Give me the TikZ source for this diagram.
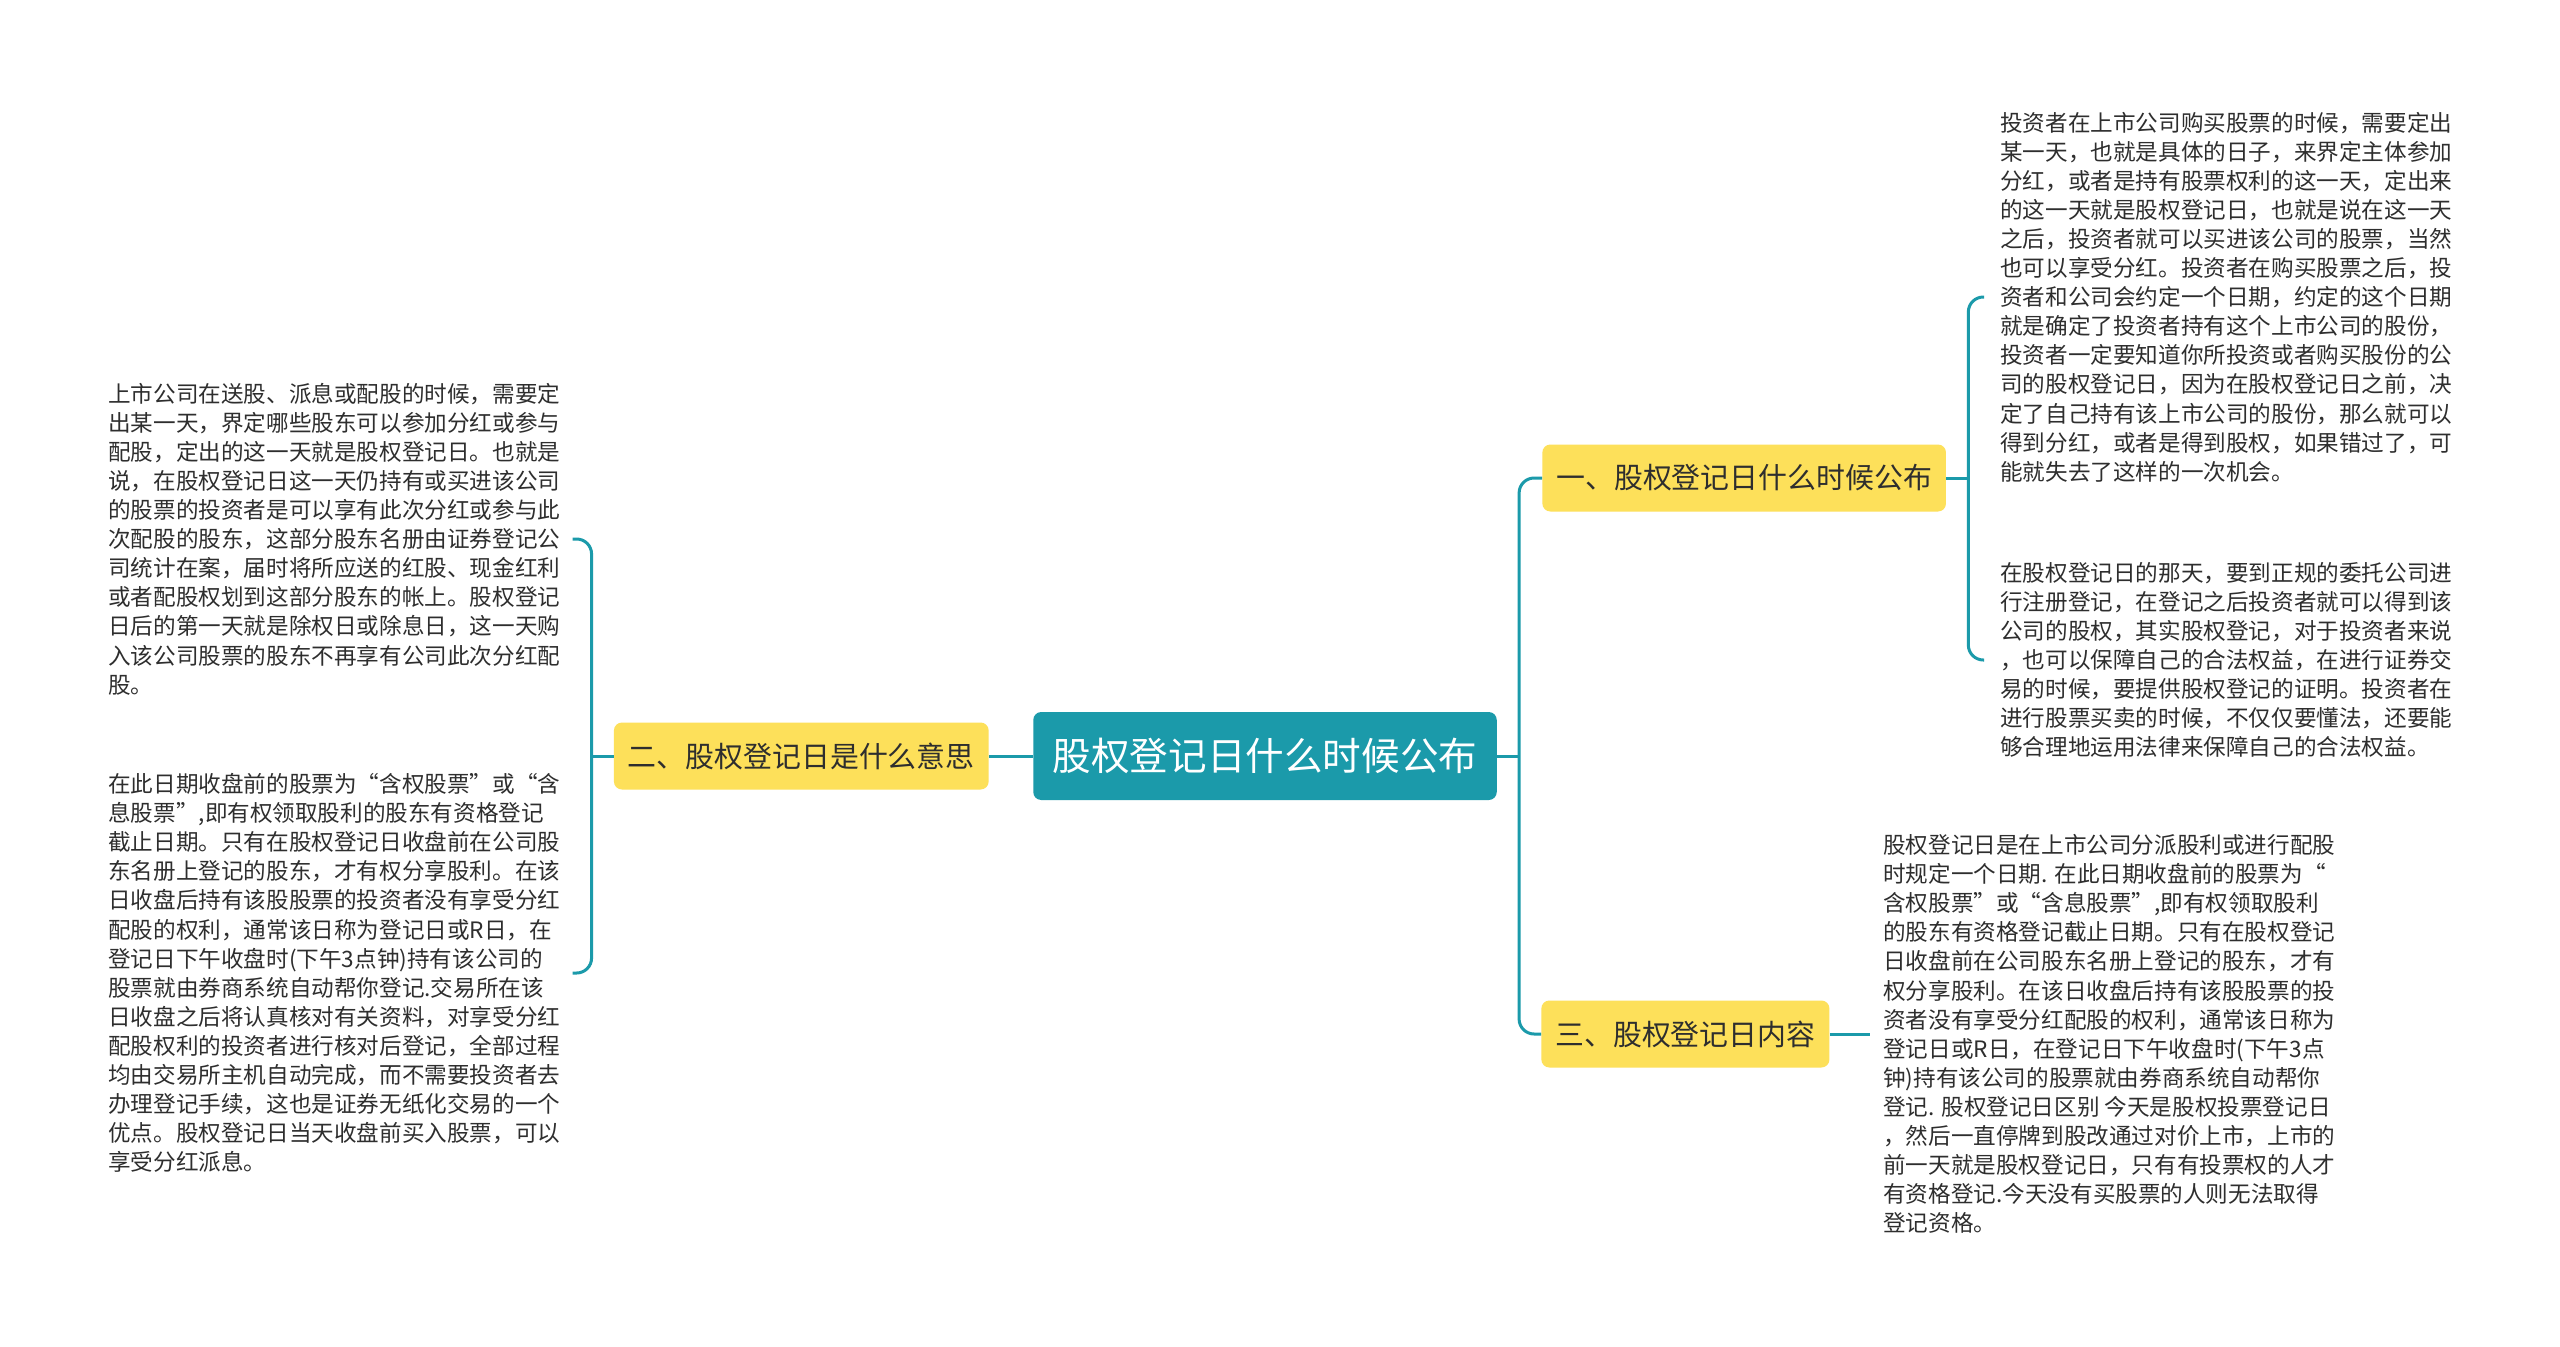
\documentclass[tikz,border=0pt]{standalone}
\usepackage{fontspec}
\setmainfont{Noto Sans CJK SC}
\usetikzlibrary{calc}

\definecolor{rootteal}{HTML}{1B9AAA}
\definecolor{topicyellow}{HTML}{FDE05A}
\definecolor{notegray}{HTML}{2E2E2E}

\tikzset{
  root/.style={fill=rootteal, text=white, rounded corners=0.16cm,
    font=\fontsize{0.772cm}{0.9cm}\selectfont,
    minimum height=1.76cm, inner xsep=0.39cm, inner ysep=0pt},
  topic/.style={fill=topicyellow, text=notegray, rounded corners=0.16cm,
    font=\fontsize{0.578cm}{0.7cm}\selectfont,
    minimum height=1.34cm, inner xsep=0.28cm, inner ysep=0pt},
  note/.style={align=left, inner sep=0pt, text=notegray,
    font=\fontsize{0.452cm}{0.582cm}\selectfont},
  link/.style={draw=rootteal, line width=0.06cm, rounded corners=0.3cm}
}

\begin{document}
\begin{tikzpicture}[x=0.02cm, y=-0.02cm]
  \useasboundingbox[fill=white] (0,0) rectangle (2560,1346);
  % 中心与分支
  \node[root] (root) at (1265,756) {股权登记日什么时候公布};
  \node[topic, anchor=east] (b2) at (989,756) {二、股权登记日是什么意思};
  \node[topic, anchor=west] (b1) at (1542,478) {一、股权登记日什么时候公布};
  \node[topic, anchor=west] (b3) at (1541,1034) {三、股权登记日内容};
  % 说明文字
  \node[note, anchor=west] (r1) at (2000,297) {投资者在上市公司购买股票的时候，需要定出\\
    某一天，也就是具体的日子，来界定主体参加\\
    分红，或者是持有股票权利的这一天，定出来\\
    的这一天就是股权登记日，也就是说在这一天\\
    之后，投资者就可以买进该公司的股票，当然\\
    也可以享受分红。投资者在购买股票之后，投\\
    资者和公司会约定一个日期，约定的这个日期\\
    就是确定了投资者持有这个上市公司的股份，\\
    投资者一定要知道你所投资或者购买股份的公\\
    司的股权登记日，因为在股权登记日之前，决\\
    定了自己持有该上市公司的股份，那么就可以\\
    得到分红，或者是得到股权，如果错过了，可\\
    能就失去了这样的一次机会。};
  \node[note, anchor=west] (r2) at (2000,660) {在股权登记日的那天，要到正规的委托公司进\\
    行注册登记，在登记之后投资者就可以得到该\\
    公司的股权，其实股权登记，对于投资者来说\\
    ，也可以保障自己的合法权益，在进行证券交\\
    易的时候，要提供股权登记的证明。投资者在\\
    进行股票买卖的时候，不仅仅要懂法，还要能\\
    够合理地运用法律来保障自己的合法权益。};
  \node[note, anchor=west] (r3) at (1883,1034) {股权登记日是在上市公司分派股利或进行配股\\
    时规定一个日期. 在此日期收盘前的股票为“\\
    含权股票”或“含息股票”,即有权领取股利\\
    的股东有资格登记截止日期。只有在股权登记\\
    日收盘前在公司股东名册上登记的股东，才有\\
    权分享股利。在该日收盘后持有该股股票的投\\
    资者没有享受分红配股的权利，通常该日称为\\
    登记日或R日，在登记日下午收盘时(下午3点\\
    钟)持有该公司的股票就由券商系统自动帮你\\
    登记. 股权登记日区别 今天是股权投票登记日\\
    ，然后一直停牌到股改通过对价上市，上市的\\
    前一天就是股权登记日，只有有投票权的人才\\
    有资格登记.今天没有买股票的人则无法取得\\
    登记资格。};
  \node[note, anchor=west] (l1) at (108,539) {上市公司在送股、派息或配股的时候，需要定\\
    出某一天，界定哪些股东可以参加分红或参与\\
    配股，定出的这一天就是股权登记日。也就是\\
    说，在股权登记日这一天仍持有或买进该公司\\
    的股票的投资者是可以享有此次分红或参与此\\
    次配股的股东，这部分股东名册由证券登记公\\
    司统计在案，届时将所应送的红股、现金红利\\
    或者配股权划到这部分股东的帐上。股权登记\\
    日后的第一天就是除权日或除息日，这一天购\\
    入该公司股票的股东不再享有公司此次分红配\\
    股。};
  \node[note, anchor=west] (l2) at (108,973) {在此日期收盘前的股票为“含权股票”或“含\\
    息股票”,即有权领取股利的股东有资格登记\\
    截止日期。只有在股权登记日收盘前在公司股\\
    东名册上登记的股东，才有权分享股利。在该\\
    日收盘后持有该股股票的投资者没有享受分红\\
    配股的权利，通常该日称为登记日或R日，在\\
    登记日下午收盘时(下午3点钟)持有该公司的\\
    股票就由券商系统自动帮你登记.交易所在该\\
    日收盘之后将认真核对有关资料，对享受分红\\
    配股权利的投资者进行核对后登记，全部过程\\
    均由交易所主机自动完成，而不需要投资者去\\
    办理登记手续，这也是证券无纸化交易的一个\\
    优点。股权登记日当天收盘前买入股票，可以\\
    享受分红派息。};
  % 连线
  \coordinate (lbar) at ([xshift=-0.44cm]b2.west);
  \coordinate (rbar) at ([xshift=0.44cm]root.east);
  \coordinate (r1bar) at ([xshift=0.44cm]b1.east);
  \draw[link] (root.west) -- (b2.east);
  \draw[link] (b2.west) -- (lbar);
  \draw[link] ([xshift=0.24cm]l1.east) -| (lbar) |- ([xshift=0.24cm]l2.east);
  \draw[link] (root.east) -- (rbar);
  \draw[link] (b1.west) -| (rbar) |- (b3.west);
  \draw[link] (b1.east) -- (r1bar);
  \draw[link] ([xshift=-0.32cm]r1.west) -| (r1bar) |- ([xshift=-0.32cm]r2.west);
  \draw[link] (b3.east) -- ([xshift=-0.26cm]r3.west);
\end{tikzpicture}
\end{document}
